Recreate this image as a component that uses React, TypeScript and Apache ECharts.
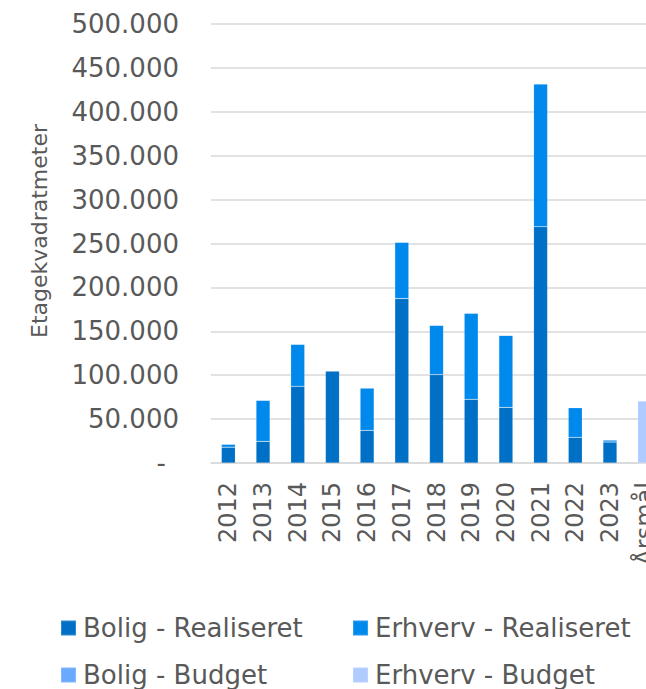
import React, { useEffect, useRef } from "react";
import * as echarts from "echarts";

const categories = ["2012", "2013", "2014", "2015", "2016", "2017", "2018", "2019", "2020", "2021", "2022", "2023", "Årsmål"];
const boligRealiseret = [18000, 24700, 87400, 104800, 37200, 187200, 100600, 72600, 63400, 269100, 29300, 23900, 0];
const erhvervRealiseret = [3400, 46700, 47800, 0, 48200, 64200, 56200, 97900, 82000, 162600, 33700, 2300, 0];
const boligBudget = [0, 0, 0, 0, 0, 0, 0, 0, 0, 0, 0, 0, 0];
const erhvervBudget = [0, 0, 0, 0, 0, 0, 0, 0, 0, 0, 0, 0, 70600];
const seriesNames = ["Bolig - Realiseret", "Erhverv - Realiseret", "Bolig - Budget", "Erhverv - Budget"];
const seriesColors = ["#0070C6", "#0089EC", "#69A9FF", "#AFCBFF"];
const yAxisTitle = "Etagekvadratmeter";

const FONT = "'DejaVu Sans', sans-serif";
const GREY = "#595959";

function fmt(v: number): string {
  if (v === 0) return "{z|-}";
  return String(v).replace(/\B(?=(\d{3})+(?!\d))/g, ".");
}

export default function App() {
  const ref = useRef<HTMLDivElement>(null);
  useEffect(() => {
    if (!ref.current) return;
    const chart = echarts.init(ref.current, undefined, { renderer: "svg" });
    const data = [boligRealiseret, erhvervRealiseret, boligBudget, erhvervBudget];
    const legendText = { color: GREY, fontSize: 26, fontFamily: FONT, lineHeight: 28, padding: [0, 0, 0, 2] };
    const legendBase = { orient: "vertical", top: 614, padding: 0, itemWidth: 15, itemHeight: 15, itemGap: 19, textStyle: legendText, icon: "rect" };
    chart.setOption({
      animation: false,
      backgroundColor: "#ffffff",
      grid: { left: 211, top: 24, width: 451, height: 439 },
      legend: [
        { ...legendBase, data: [seriesNames[0], seriesNames[2]], left: 60 },
        { ...legendBase, data: [seriesNames[1], seriesNames[3]], left: 352 },
      ],
      graphic: [
        {
          type: "text",
          x: 39,
          y: 231,
          rotation: Math.PI / 2,
          style: { text: yAxisTitle, fill: GREY, fontSize: 22, fontFamily: FONT, align: "center", verticalAlign: "middle" },
        },
      ],
      xAxis: {
        type: "category",
        data: categories,
        axisLine: { lineStyle: { color: "#d9d9d9", width: 1.5 } },
        axisTick: { show: false },
        axisLabel: { rotate: 90, margin: 19, color: GREY, fontSize: 24, fontFamily: FONT, interval: 0 },
      },
      yAxis: {
        type: "value",
        min: 0,
        max: 500000,
        interval: 50000,
        axisLine: { show: false },
        axisTick: { show: false },
        splitLine: { lineStyle: { color: "#d9d9d9", width: 1.5 } },
        axisLabel: {
          formatter: fmt,
          margin: 32,
          color: GREY,
          fontSize: 26,
          fontFamily: FONT,
          rich: { z: { color: GREY, fontSize: 26, fontFamily: FONT, padding: [0, 13, 0, 0] } },
        },
      },
      series: data.map((d, i) => ({
        name: seriesNames[i],
        type: "bar",
        stack: "total",
        data: d,
        barWidth: 14,
        itemStyle: { color: seriesColors[i], borderColor: "rgba(255,255,255,0.18)", borderWidth: 0.6 },
      })),
    });
    return () => chart.dispose();
  }, []);
  return (
    <div style={{ width: 646, height: 689, position: "absolute", left: 0, top: 0, overflow: "hidden" }}>
      <div ref={ref} style={{ width: 700, height: 689 }} />
    </div>
  );
}
